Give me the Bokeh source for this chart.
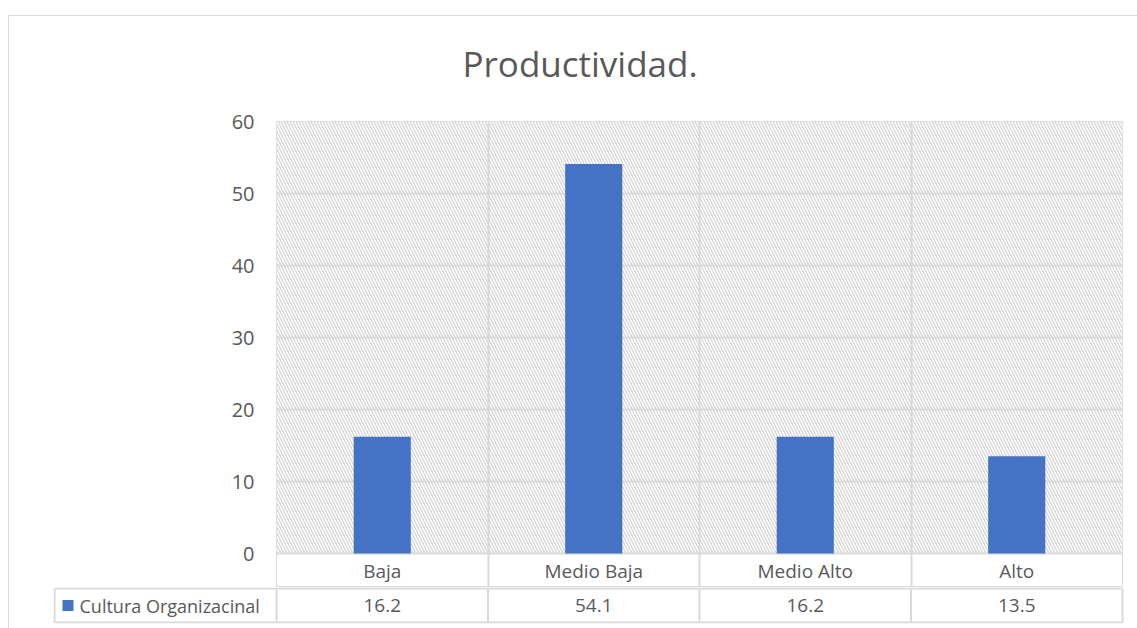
import numpy as np
from bokeh.plotting import figure
from bokeh.layouts import column
from bokeh.models import Range1d, FixedTicker, BoxAnnotation, ColumnDataSource
from bokeh.core.properties import value
from bokeh.embed import file_html
from bokeh.resources import INLINE

# ---- data ----
categories = ["Baja", "Medio Baja", "Medio Alto", "Alto"]
values = [16.2, 54.1, 16.2, 13.5]
series_name = "Cultura Organizacinal"
y_ticks = [0, 10, 20, 30, 40, 50, 60]
title_text = "Productividad."

# ---- style ----
FONT = "Open Sans"
TXT = "#595959"
GRID = "#d9d9d9"
BAR = "#4472C4"

n = len(categories)
centers = np.arange(n) + 0.5
bounds = np.arange(n + 1)

# ---- geometry (pixels) ----
host_left = 8
W = 1137 - host_left
frame_l, frame_r = 276, 1122
frame_t, zero_y = 121, 553
row_h = 34
frame_b = zero_y + row_h          # frame also holds the category row of the table
ppu = (frame_r - frame_l) / n     # pixels per category
ppy = (zero_y - frame_t) / (y_ticks[-1] - y_ticks[0])  # pixels per unit

# ---------------- main chart (with category row) ----------------
p = figure(width=W, height=frame_b,
           x_range=Range1d(0, n),
           y_range=Range1d(y_ticks[0] - row_h / ppy, y_ticks[-1]),
           output_backend="svg", toolbar_location=None, frame_align=False,
           min_border_left=frame_l - host_left, min_border_right=1137 - frame_r,
           min_border_top=frame_t, min_border_bottom=0,
           title=title_text)
p.background_fill_color = "white"
p.border_fill_alpha = 0
p.outline_line_color = GRID
p.outline_line_width = 1

p.title.text_font = FONT
p.title.text_font_size = "35px"
p.title.text_font_style = "normal"
p.title.text_color = TXT
p.title.align = "left"
p.title.offset = 186
p.title.standoff = 70

hatch = BoxAnnotation(bottom=y_ticks[0], level="image", fill_color="white", fill_alpha=1,
                      hatch_pattern="\\", hatch_color="#d2d2d2",
                      hatch_scale=6, hatch_weight=1.2, line_color=None)
p.add_layout(hatch)

p.xaxis.visible = False
p.xgrid.ticker = FixedTicker(ticks=list(bounds))
p.xgrid.grid_line_color = GRID
p.xgrid.grid_line_width = 2
p.ygrid.ticker = FixedTicker(ticks=y_ticks)
p.ygrid.grid_line_color = GRID
p.ygrid.grid_line_width = 2

p.yaxis.ticker = FixedTicker(ticks=y_ticks)
p.yaxis.axis_line_color = None
p.yaxis.major_tick_line_color = None
p.yaxis.minor_tick_line_color = None
p.yaxis.major_tick_in = 0
p.yaxis.major_tick_out = 0
p.yaxis.major_label_standoff = 22
p.yaxis.major_label_text_font = FONT
p.yaxis.major_label_text_font_size = "20px"
p.yaxis.major_label_text_color = TXT

p.vbar(x=centers, top=values, width=0.27, fill_color=BAR, line_color=None)

cat_src = ColumnDataSource(dict(x=centers, y=[-(row_h / 2) / ppy] * n, text=categories))
p.text(x="x", y="y", text="text", source=cat_src, text_align="center",
       text_baseline="middle", text_font=value(FONT), text_font_size="19px",
       text_color=TXT)

# ---------------- values row of the table ----------------
tab_l, tab_r = 53, 1124
t_h = 628 - frame_b
bottom_pad = 5
frame_h = t_h - bottom_pad
x0 = (tab_l - frame_l) / ppu
x1 = n + (tab_r - frame_r) / ppu
legend_left = (54 - frame_l) / ppu
pad = (frame_h - row_h) / 2 / row_h

t = figure(width=W, height=t_h,
           x_range=Range1d(x0, x1), y_range=Range1d(-pad, 1 + pad),
           output_backend="svg", toolbar_location=None, frame_align=False,
           x_axis_location=None, y_axis_location=None,
           min_border_left=tab_l - host_left, min_border_right=1137 - tab_r,
           min_border_top=0, min_border_bottom=bottom_pad)
t.outline_line_color = None
t.xgrid.visible = False
t.ygrid.visible = False
t.background_fill_color = "white"
t.border_fill_alpha = 0

vx = list(bounds) + [legend_left]
t.segment(x0=vx, y0=[0] * len(vx), x1=vx, y1=[1] * len(vx), line_color=GRID, line_width=2)
t.segment(x0=[legend_left, legend_left], y0=[0, 1], x1=[n, n], y1=[0, 1],
          line_color=GRID, line_width=2)

val_src = ColumnDataSource(dict(x=centers, y=[0.5] * n, text=[f"{v:.1f}" for v in values]))
t.text(x="x", y="y", text="text", source=val_src, text_align="center",
       text_baseline="middle", text_font=value(FONT), text_font_size="19px",
       text_color=TXT)

t.scatter(x=[(67.5 - frame_l) / ppu], y=[0.5], marker="square", size=11,
          fill_color=BAR, line_color=None)
t.text(x=[(79 - frame_l) / ppu], y=[0.5], text=[series_name], text_align="left",
       text_baseline="middle", text_font=value(FONT), text_font_size="18px",
       text_color=TXT)

# outer chart border (top line at y=15, left line at x=8)
border_bg = ("linear-gradient(#d9d9d9,#d9d9d9) 0 15px / 100% 1px no-repeat, "
             "linear-gradient(#d9d9d9,#d9d9d9) 0 15px / 1px 100% no-repeat")
layout = column(p, t, spacing=0, margin=(0, 0, 0, host_left),
                styles={"background": border_bg})

open("out.html", "w").write(file_html(layout, INLINE))
